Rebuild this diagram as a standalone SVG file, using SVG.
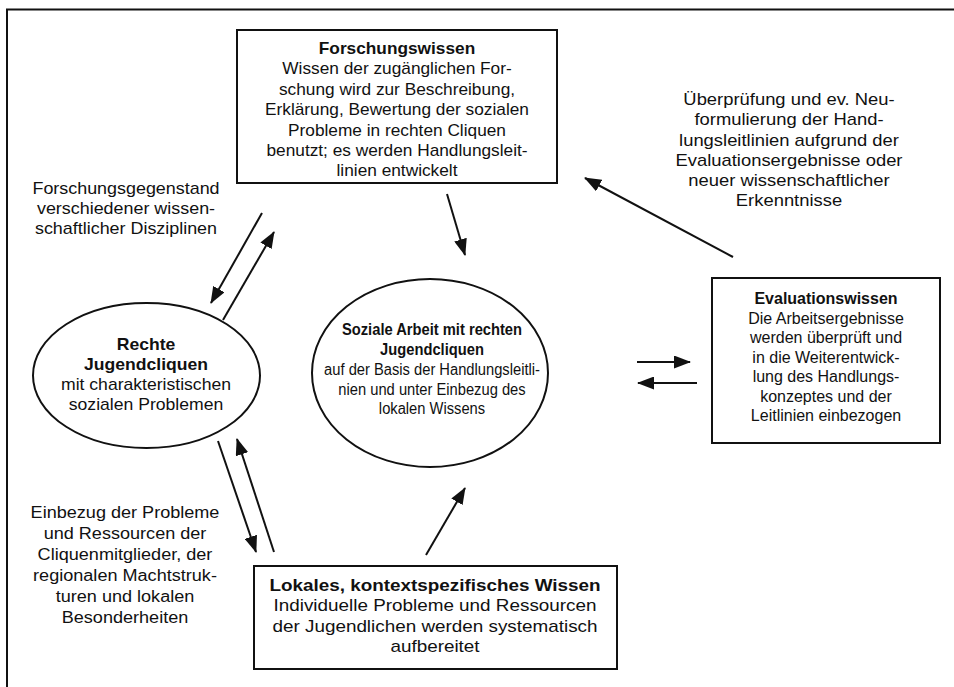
<svg xmlns="http://www.w3.org/2000/svg" width="954" height="687" viewBox="0 0 954 687">
<style>
  text { font-family: "Liberation Sans", Arial, sans-serif; font-size: 16px; fill: #111; text-anchor: middle; }
  .b { font-weight: bold; }
  .box { fill: #fff; stroke: #111; stroke-width: 2; }
  .ell { fill: #fff; stroke: #111; stroke-width: 2; }
  .con line { stroke: #111; stroke-width: 2; marker-end: url(#ah); }
  .frame { fill: none; stroke: #111; stroke-width: 2; }
</style>
<defs>
  <marker id="ah" markerUnits="userSpaceOnUse" markerWidth="17" markerHeight="13" viewBox="0 0 17 13" refX="16" refY="6.5" orient="auto">
    <path d="M0,0 L17,6.5 L0,13 z" fill="#111"/>
  </marker>
</defs>
<rect width="954" height="687" fill="#fff"/>
<path class="frame" d="M7,687 V9.5 H954"/>

<g id="forschungswissen">
  <rect class="box" x="237" y="30" width="320" height="153"/>
  <g transform="translate(397,0) scale(1.08,1)">
    <text class="b" x="0" y="54">Forschungswissen</text>
    <text x="0" y="74.4">Wissen der zugänglichen For-</text>
    <text x="0" y="94.8">schung wird zur Beschreibung,</text>
    <text x="0" y="115.2">Erklärung, Bewertung der sozialen</text>
    <text x="0" y="135.6">Probleme in rechten Cliquen</text>
    <text x="0" y="156">benutzt; es werden Handlungsleit-</text>
    <text x="0" y="176.4">linien entwickelt</text>
  </g>
</g>

<g id="label-ueberpruefung" transform="translate(789,0) scale(1.15,1)">
  <text x="0" y="105">Überprüfung und ev. Neu-</text>
  <text x="0" y="125.3">formulierung der Hand-</text>
  <text x="0" y="145.6">lungsleitlinien aufgrund der</text>
  <text x="0" y="165.9">Evaluationsergebnisse oder</text>
  <text x="0" y="186.2">neuer wissenschaftlicher</text>
  <text x="0" y="206.5">Erkenntnisse</text>
</g>

<g id="label-forschungsgegenstand" transform="translate(126,0) scale(1.12,1)">
  <text x="0" y="194">Forschungsgegenstand</text>
  <text x="0" y="214">verschiedener wissen-</text>
  <text x="0" y="234">schaftlicher Disziplinen</text>
</g>

<g id="rechte-jugendcliquen">
  <ellipse class="ell" cx="146.5" cy="375.5" rx="113.5" ry="72.5"/>
  <g transform="translate(146,0) scale(1.1,1)">
    <text class="b" x="0" y="350">Rechte</text>
    <text class="b" x="0" y="370">Jugendcliquen</text>
    <text x="0" y="390">mit charakteristischen</text>
    <text x="0" y="410">sozialen Problemen</text>
  </g>
</g>

<g id="soziale-arbeit">
  <ellipse class="ell" cx="430" cy="373" rx="118" ry="94"/>
  <g transform="translate(432,0) scale(0.92,1)">
    <text class="b" x="0" y="335">Soziale Arbeit mit rechten</text>
    <text class="b" x="0" y="355">Jugendcliquen</text>
    <text x="0" y="375">auf der Basis der Handlungsleitli-</text>
    <text x="0" y="395">nien und unter Einbezug des</text>
    <text x="0" y="414">lokalen Wissens</text>
  </g>
</g>

<g id="evaluationswissen">
  <rect class="box" x="712" y="278" width="228" height="165"/>
  <g transform="translate(826,0)">
    <text class="b" x="0" y="304">Evaluationswissen</text>
    <text x="0" y="323.5">Die Arbeitsergebnisse</text>
    <text x="0" y="343">werden überprüft und</text>
    <text x="0" y="362.5">in die Weiterentwick-</text>
    <text x="0" y="382">lung des Handlungs-</text>
    <text x="0" y="401.5">konzeptes und der</text>
    <text x="0" y="421">Leitlinien einbezogen</text>
  </g>
</g>

<g id="label-einbezug" transform="translate(125,0) scale(1.13,1)">
  <text x="0" y="518">Einbezug der Probleme</text>
  <text x="0" y="539">und Ressourcen der</text>
  <text x="0" y="560">Cliquenmitglieder, der</text>
  <text x="0" y="581">regionalen Machtstruk-</text>
  <text x="0" y="602">turen und lokalen</text>
  <text x="0" y="623">Besonderheiten</text>
</g>

<g id="lokales-wissen">
  <rect class="box" x="254" y="566" width="363" height="103"/>
  <g transform="translate(435,0) scale(1.18,1)">
    <text class="b" x="0" y="591">Lokales, kontextspezifisches Wissen</text>
    <text x="0" y="611.5">Individuelle Probleme und Ressourcen</text>
    <text x="0" y="632">der Jugendlichen werden systematisch</text>
    <text x="0" y="652.5">aufbereitet</text>
  </g>
</g>

<g id="connectors" class="con">
  <line x1="262" y1="213" x2="211" y2="303"/>
  <line x1="223" y1="320" x2="274" y2="232"/>
  <line x1="447" y1="194" x2="465" y2="255"/>
  <line x1="733" y1="257" x2="585" y2="178"/>
  <line x1="637" y1="362" x2="690" y2="362"/>
  <line x1="697" y1="383" x2="638" y2="383"/>
  <line x1="218" y1="441" x2="256" y2="552"/>
  <line x1="274" y1="552" x2="237" y2="439"/>
  <line x1="426" y1="555" x2="465" y2="488"/>
</g>
</svg>
